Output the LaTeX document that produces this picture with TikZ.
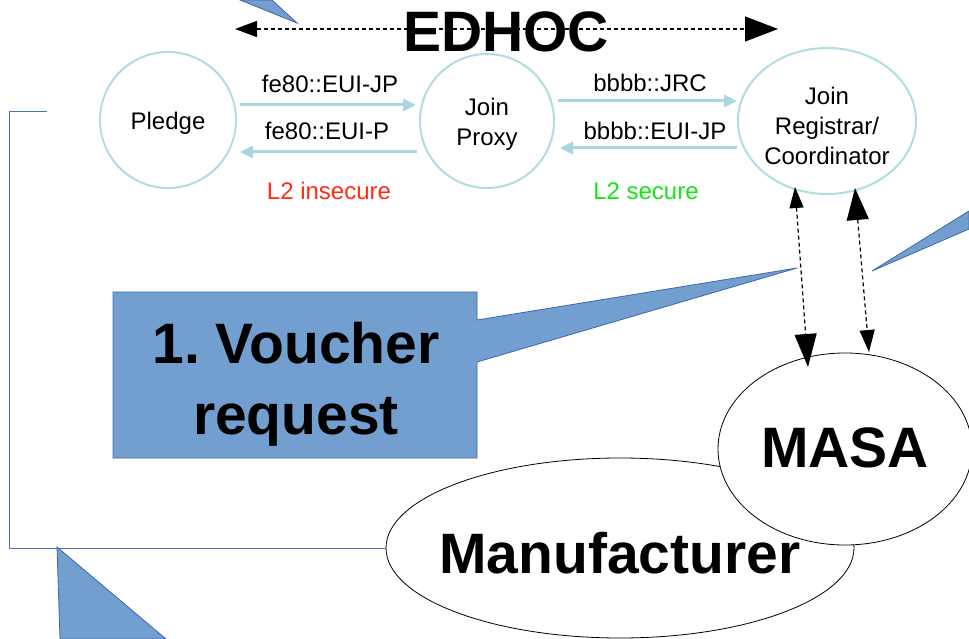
\documentclass[tikz,border=0pt]{standalone}
\usepackage{fontspec}
\setmainfont{Liberation Sans}
\usetikzlibrary{arrows.meta,shapes.geometric}
\definecolor{ringc}{RGB}{176,221,226}
\definecolor{flowc}{RGB}{170,214,221}
\definecolor{insec}{RGB}{255,45,20}
\definecolor{secc}{RGB}{20,230,20}
\definecolor{callfill}{RGB}{114,159,207}
\definecolor{calledge}{RGB}{60,105,170}
\definecolor{brkc}{RGB}{80,115,180}
\frenchspacing
\begin{document}
\begin{tikzpicture}[x=1pt,y=-1pt,
  every node/.style={inner sep=0pt,outer sep=0pt},
  smalltxt/.style={font=\fontsize{24}{30}\selectfont,align=center},
  bigtxt/.style={font=\fontsize{57}{71}\selectfont\bfseries},
  ringnode/.style={draw=ringc,line width=2pt,smalltxt},
  flow/.style={draw=flowc,line width=3pt,-{Triangle[length=13pt,width=12pt]}},
  dasharrow/.style={draw=black,line width=1.2pt,dash pattern=on 4pt off 3pt},
  calloutshape/.style={fill=callfill,draw=calledge,line width=0.8pt},
  ovalnode/.style={ellipse,draw=black,line width=0.8pt,fill=white,bigtxt},
  brkline/.style={draw=brkc,line width=1pt}]
\useasboundingbox (0,0) rectangle (969,639);
\fill[white] (0,0) rectangle (969,639);

% nodes of the join network
\node[ringnode,circle,minimum size=136pt,text height=25pt,text depth=5pt] (pledge) at (168,120) {Pledge};
\node[ringnode,circle,minimum size=134pt] (proxy) at (487,121) {\rule{0pt}{23pt}Join\\Proxy};
\node[ringnode,ellipse,minimum width=178pt,minimum height=146pt] (jrc) at (827,121) {\rule{0pt}{27pt}Join\\Registrar/\\Coordinator};

% EDHOC
\coordinate (edL) at (235,29);
\coordinate (edR) at (778,29);
\draw[dasharrow,{Triangle[length=22pt,width=16pt]}-{Triangle[length=33pt,width=25pt]}] (edL) -- (edR);
\node[bigtxt,anchor=base] (edhoc) at (506,52) {EDHOC};

% flows
\draw[flow] ([shift={(4,-15)}]pledge.east) -- ([shift={(-4,-16)}]proxy.west);
\draw[flow] ([shift={(-3,31)}]proxy.west) -- ([shift={(4,32)}]pledge.east);
\draw[flow] ([shift={(4,-20)}]proxy.east) -- ([shift={(-1,-20)}]jrc.west);
\draw[flow] ([shift={(-1,27)}]jrc.west) -- ([shift={(6,27)}]proxy.east);

\node[smalltxt,anchor=base] (l1) at (330,93) {fe80::EUI-JP};
\node[smalltxt,anchor=base] (l2) at (327,140) {fe80::EUI-P};
\node[smalltxt,anchor=base,text=insec] (l3) at (329,200) {L2 insecure};
\node[smalltxt,anchor=base] (l4) at (650,92) {bbbb::JRC};
\node[smalltxt,anchor=base] (l5) at (655,140) {bbbb::EUI-JP};
\node[smalltxt,anchor=base,text=secc] (l6) at (646,200) {L2 secure};

% manufacturer and MASA
\node[ovalnode,inner xsep=-30pt,minimum width=468pt,minimum height=180pt,text height=50pt,text depth=0pt] (manu) at (620,548) {Manufacturer};
\node[ovalnode,inner xsep=-8pt,minimum width=254pt,minimum height=192pt,text height=40pt,text depth=4pt] (masa) at (845,449) {MASA};

% bracket line
\coordinate (bt) at (47,112);
\draw[brkline] (bt) -- (9,112) |- (manu.west);

% callout
\path[calloutshape] (113,292) -- (477,292) -- (477,320) -- (797,268) -- (477,362) -- (477,458) -- (113,458) -- cycle;
\node[bigtxt,anchor=base] (vt1) at (296,363) {1. Voucher};
\node[bigtxt,anchor=base] (vt2) at (296,434) {request};

% other callout wedges
\path[calloutshape] (240,0) -- (297,23) -- (272,0) -- cycle;
\path[calloutshape] (969,211) -- (872,271) -- (969,229) -- cycle;
\path[calloutshape] (57,547) -- (60,639) -- (166,639) -- cycle;

% JRC <-> MASA
\draw[dasharrow,{Triangle[length=21pt,width=14pt]}-{Triangle[length=33pt,width=22pt]}] ([shift={(-32,66)}]jrc.center) -- ([shift={(-37,-82)}]masa.center);
\draw[dasharrow,{Triangle[length=32pt,width=22pt]}-{Triangle[length=22pt,width=15pt]}] ([shift={(28,67)}]jrc.center) -- ([shift={(24,-97)}]masa.center);
\end{tikzpicture}
\end{document}
